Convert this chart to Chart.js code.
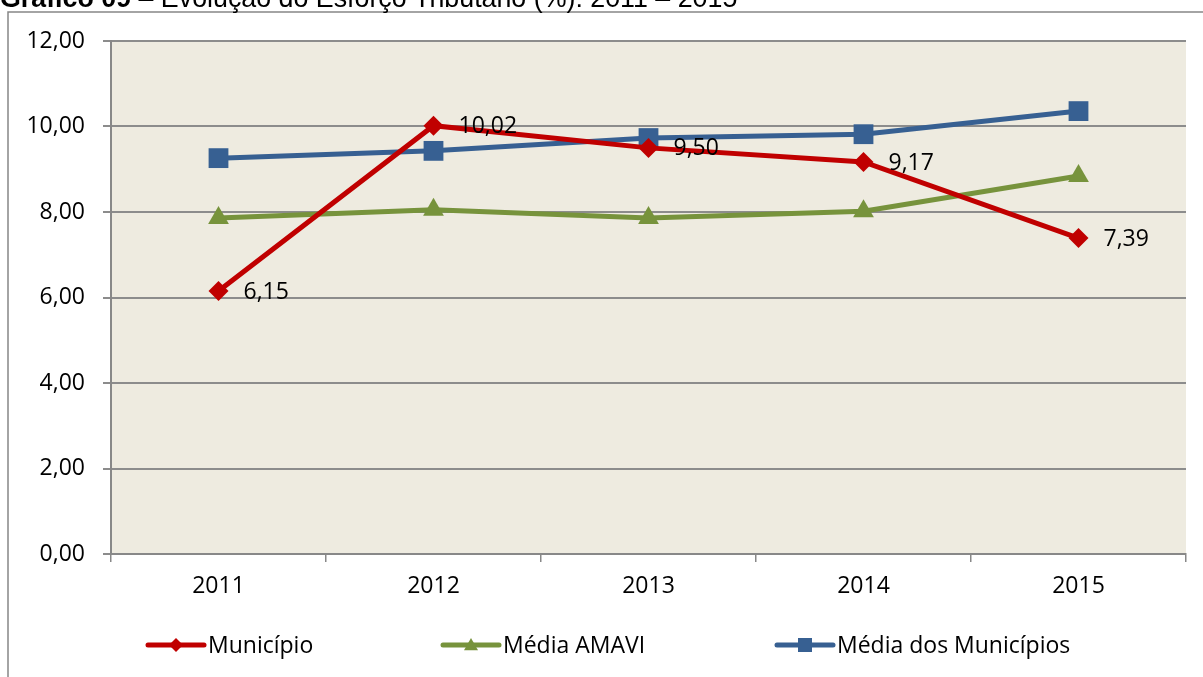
<!DOCTYPE html>
<html>
<head>
<meta charset="utf-8">
<script src="https://cdn.jsdelivr.net/npm/chart.js@4.4.1/dist/chart.umd.min.js"></script>
<style>
  html, body { margin: 0; padding: 0; background: #ffffff; }
  #wrap { position: relative; width: 1203px; height: 677px; }
  canvas { display: block; }
</style>
</head>
<body>
<div id="wrap"><canvas id="c" width="1203" height="677"></canvas></div>
<script>
const categories = ['2011', '2012', '2013', '2014', '2015'];
const municipio = [6.15, 10.02, 9.50, 9.17, 7.39];
const mediaAmavi = [7.86, 8.05, 7.86, 8.02, 8.84];
const mediaMunicipios = [9.26, 9.43, 9.73, 9.82, 10.36];
const seriesNames = ['Município', 'Média AMAVI', 'Média dos Municípios'];
const yTicks = [0, 2, 4, 6, 8, 10, 12];
const titleBold = 'Gráfico 09';
const titleRest = ' – Evolução do Esforço Tributário (%): 2011 – 2015';

const FONT = '"Open Sans", "Noto Sans", sans-serif';
const fmt = v => v.toFixed(2).replace('.', ',');

const bgPlugin = {
  id: 'bg',
  beforeDraw(chart) {
    const { ctx, chartArea: a } = chart;
    ctx.save();
    ctx.fillStyle = '#ffffff';
    ctx.fillRect(0, 0, chart.width, chart.height);
    ctx.fillStyle = '#EEEBE0';
    ctx.fillRect(a.left, a.top, a.right - a.left, a.bottom - a.top);
    // outer frame
    ctx.strokeStyle = '#868686';
    ctx.lineWidth = 1.5;
    ctx.beginPath();
    ctx.moveTo(8, chart.height + 2);
    ctx.lineTo(8, 12);
    ctx.lineTo(chart.width + 2, 12);
    ctx.stroke();
    // clipped title
    ctx.fillStyle = '#000000';
    ctx.textBaseline = 'alphabetic';
    ctx.textAlign = 'left';
    ctx.font = 'bold 26.8px "Liberation Sans", Arial, sans-serif';
    ctx.fillText(titleBold, 0, 6.5);
    const w = ctx.measureText(titleBold).width;
    ctx.font = '26.8px "Liberation Sans", Arial, sans-serif';
    ctx.fillText(titleRest, w, 6.5);
    ctx.restore();
  }
};

const labelPlugin = {
  id: 'labels',
  afterDatasetsDraw(chart) {
    const { ctx } = chart;
    const meta = chart.getDatasetMeta(0);
    ctx.save();
    ctx.fillStyle = '#000000';
    ctx.font = '23px ' + FONT;
    ctx.textAlign = 'left';
    ctx.textBaseline = 'middle';
    meta.data.forEach((pt, i) => {
      ctx.fillText(fmt(municipio[i]), pt.x + 25, pt.y + 1);
    });
    ctx.restore();
  }
};

function drawMarker(ctx, style, x, y, r, color) {
  ctx.fillStyle = color;
  ctx.beginPath();
  if (style === 'rectRot') {
    ctx.moveTo(x, y - r); ctx.lineTo(x + r, y); ctx.lineTo(x, y + r); ctx.lineTo(x - r, y);
  } else if (style === 'triangle') {
    ctx.moveTo(x, y - r); ctx.lineTo(x + r, y + r * 0.75); ctx.lineTo(x - r, y + r * 0.75);
  } else {
    ctx.rect(x - r, y - r, 2 * r, 2 * r);
  }
  ctx.closePath();
  ctx.fill();
}

const legendPlugin = {
  id: 'customLegend',
  afterDraw(chart) {
    const { ctx } = chart;
    const items = [
      { x: 148 }, { x: 443 }, { x: 777 }
    ];
    const y = 645;
    ctx.save();
    ctx.font = '23px ' + FONT;
    ctx.textBaseline = 'middle';
    ctx.textAlign = 'left';
    chart.data.datasets.forEach((ds, i) => {
      const x0 = items[i].x;
      ctx.strokeStyle = ds.borderColor;
      ctx.lineWidth = 5;
      ctx.lineCap = 'round';
      ctx.beginPath();
      ctx.moveTo(x0, y); ctx.lineTo(x0 + 56, y);
      ctx.stroke();
      drawMarker(ctx, ds.pointStyle, x0 + 28, y, 7, ds.backgroundColor);
      ctx.fillStyle = '#000000';
      ctx.fillText(ds.label, x0 + 60, y + 1);
    });
    ctx.restore();
  }
};

new Chart(document.getElementById('c'), {
  type: 'line',
  data: {
    labels: categories,
    datasets: [
      {
        label: seriesNames[0], data: municipio,
        borderColor: '#C00000', backgroundColor: '#C00000',
        borderWidth: 5, pointStyle: 'rectRot', pointRadius: 10, pointHoverRadius: 10,
        pointBorderWidth: 0, tension: 0
      },
      {
        label: seriesNames[1], data: mediaAmavi,
        borderColor: '#77933C', backgroundColor: '#77933C',
        borderWidth: 5, pointStyle: 'triangle', pointRadius: 12, pointHoverRadius: 12,
        pointBorderWidth: 0, tension: 0
      },
      {
        label: seriesNames[2], data: mediaMunicipios,
        borderColor: '#376092', backgroundColor: '#376092',
        borderWidth: 5, pointStyle: 'rect', pointRadius: 14, pointHoverRadius: 14,
        pointBorderWidth: 0, tension: 0
      }
    ]
  },
  options: {
    responsive: false,
    animation: false,
    devicePixelRatio: 1,
    layout: { padding: { top: 41, right: 17, left: 0, bottom: 0 } },
    plugins: {
      legend: { display: false },
      tooltip: { enabled: false },
      title: { display: false }
    },
    scales: {
      x: {
        offset: true,
        grid: { offset: true, drawOnChartArea: false, drawTicks: true, tickLength: 8, color: '#888888', lineWidth: 1.5 },
        border: { color: '#888888', width: 2 },
        ticks: { color: '#000000', font: { family: FONT, size: 23 }, padding: 11, maxRotation: 0 },
        afterFit(s) { s.height = 123; }
      },
      y: {
        min: 0, max: 12,
        afterBuildTicks(s) { s.ticks = yTicks.map(v => ({ value: v })); },
        grid: { color: '#8C8C8C', lineWidth: 2, drawTicks: true, tickLength: 8 },
        border: { color: '#888888', width: 2 },
        ticks: { color: '#000000', font: { family: FONT, size: 23 }, padding: 18, callback: v => fmt(v) },
        afterFit(s) { s.width = 111; }
      }
    }
  },
  plugins: [bgPlugin, labelPlugin, legendPlugin]
});
</script>
</body>
</html>
